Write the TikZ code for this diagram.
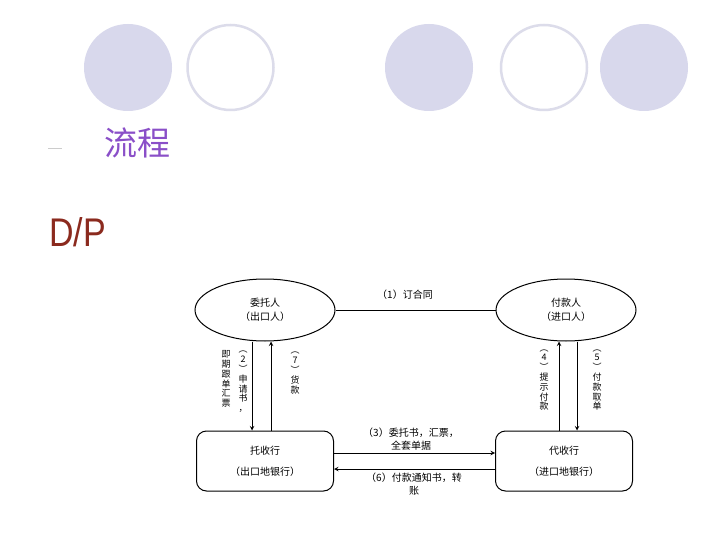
\documentclass[tikz,border=0pt]{standalone}
\usepackage{fontspec}
\newfontfamily\cjk{Noto Sans CJK SC}
\newfontfamily\arialfont{Liberation Sans}
\usepackage{xcolor}
\usetikzlibrary{shapes.geometric, positioning, calc}

\definecolor{dotfill}{HTML}{D8D8EC}
\definecolor{dotline}{HTML}{DCDCEA}
\definecolor{titlepurple}{HTML}{8A4FC8}
\definecolor{dpred}{HTML}{8B2A1E}

\tikzset{
    party/.style={draw, ellipse, line width=1pt, minimum width=140pt, minimum height=62pt,
        align=center, font=\cjk\fontsize{10}{14}\selectfont},
    bank/.style={draw, rounded corners=10pt, line width=1pt, minimum width=137pt, minimum height=60pt,
        align=center, font=\cjk\fontsize{10}{14}\selectfont},
    vlabel/.style={align=center, inner sep=0pt, font=\cjk\fontsize{9}{9.8}\selectfont},
    hlabel/.style={align=center, inner sep=0pt, font=\cjk\fontsize{10}{13.5}\selectfont},
    flow/.style={line width=1pt, ->}
}

\begin{document}
\begin{tikzpicture}[x=1pt, y=-1pt, >=stealth]
    \useasboundingbox[fill=white] (0,0) rectangle (720,540);

    % ---------------------------------------------------
    % 1. Slide header
    % ---------------------------------------------------
    \fill[dotfill] (128,67.5) ellipse (44 and 43.5);
    \draw[dotline, line width=2.5pt] (230.5,67.5) ellipse (43 and 42.5);
    \fill[dotfill] (429,67.5) ellipse (44 and 43.5);
    \draw[dotline, line width=2.5pt] (544,67.5) ellipse (43 and 42.5);
    \fill[dotfill] (644,67.5) ellipse (44 and 43.5);

    \draw[gray!40, line width=1pt] (48,149) -- (62,149);
    \node[text=titlepurple, font=\cjk\fontsize{33}{33}\selectfont, inner sep=0pt] (title) at (137,143) {流程};
    \node[text=dpred, font=\arialfont\fontsize{40}{40}\selectfont, xscale=0.85, inner sep=0pt, anchor=west] (dp) at (49,232) {D/P};

    % ---------------------------------------------------
    % 2. Parties and banks
    % ---------------------------------------------------
    \node[party] (weituo) at (265,310) {委托人\\（出口人）};
    \node[party] (fukuan) at (566,310) {付款人\\（进口人）};
    \node[bank] (tuoshou) at (265,461) {托收行\\[7pt]（出口地银行）};
    \node[bank] (daishou) at (564,461) {代收行\\[7pt]（进口地银行）};

    % ---------------------------------------------------
    % 3. Flows
    % ---------------------------------------------------
    \draw[line width=1pt] (weituo.east) -- (fukuan.west);
    \node[hlabel] (step1) at (405,295) {（1）订合同};

    % left side
    \draw[flow] ([xshift=-13pt]weituo.south) -- ([xshift=-13pt]weituo.south |- tuoshou.north);
    \draw[flow] ([xshift=6pt]tuoshou.north) -- ([xshift=6pt]tuoshou.north |- weituo.south);
    \node[vlabel] (step2a) at (226,379) {即\\期\\跟\\单\\汇\\票};
    \node[vlabel] (step2b) at (243,382) {︵\\2\\︶\\申\\请\\书\\，};
    \node[vlabel] (step7) at (295,373) {︵\\7\\︶\\货\\款};

    % right side
    \draw[flow] ([xshift=-5pt]daishou.north) -- ([xshift=-5pt]daishou.north |- fukuan.south);
    \draw[flow] ([xshift=11pt]fukuan.south) -- ([xshift=11pt]fukuan.south |- daishou.north);
    \node[vlabel] (step4) at (544,380) {︵\\4\\︶\\提\\示\\付\\款};
    \node[vlabel] (step5) at (597,380) {︵\\5\\︶\\付\\款\\取\\单};

    % bottom
    \draw[flow] ([yshift=8pt]tuoshou.east) -- ([yshift=8pt]tuoshou.east -| daishou.west);
    \draw[flow] ([yshift=-8pt]daishou.west) -- ([yshift=-8pt]daishou.west -| tuoshou.east);
    \node[hlabel] (step3) at (411,439) {（3）委托书，汇票，\\全套单据};
    \node[hlabel] (step6) at (414,484) {（6）付款通知书，转\\账};

\end{tikzpicture}
\end{document}
